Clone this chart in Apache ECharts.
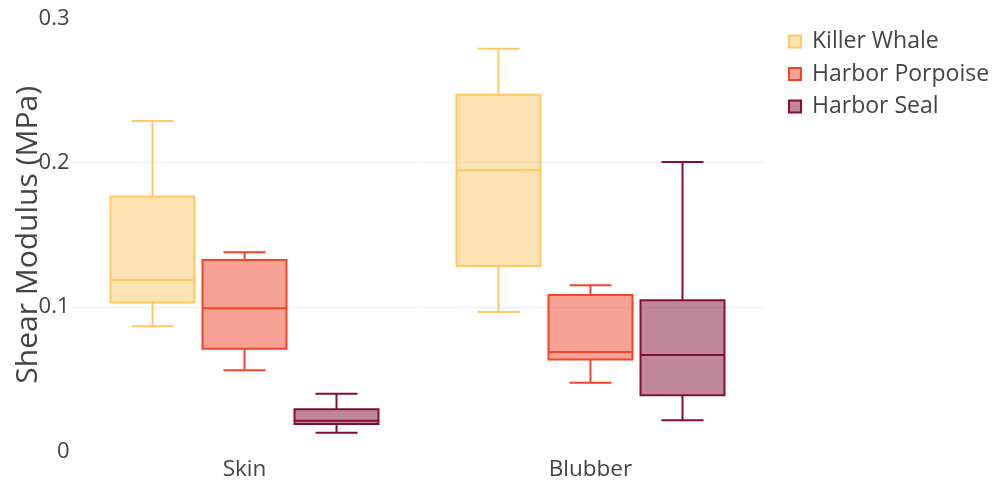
<!DOCTYPE html>
<html>
<head>
<meta charset="utf-8">
<script src="https://cdn.jsdelivr.net/npm/echarts@6/dist/echarts.min.js"></script>
<style>html,body{margin:0;padding:0;background:#fff;}#c{width:993px;height:483px;}</style>
</head>
<body>
<div id="c"></div>
<script>
// Data: [categoryIndex, min, Q1, median, Q3, max]
const categories = ['Skin', 'Blubber'];
const seriesNames = ['Killer Whale', 'Harbor Porpoise', 'Harbor Seal'];
const killerWhale = [
  [0, 0.0866, 0.1032, 0.1187, 0.1765, 0.2289],
  [1, 0.0965, 0.1284, 0.1947, 0.2471, 0.2790]
];
const harborPorpoise = [
  [0, 0.0561, 0.0711, 0.0991, 0.1326, 0.1379],
  [1, 0.0475, 0.0637, 0.0688, 0.1083, 0.1150]
];
const harborSeal = [
  [0, 0.0129, 0.0189, 0.0212, 0.0291, 0.0399],
  [1, 0.0215, 0.0388, 0.0667, 0.1046, 0.2005]
];
const yTicks = [0, 0.1, 0.2, 0.3];

const lineColors = ['#fec866', '#f2452b', '#820f38'];
const fillColors = ['rgba(254,200,102,0.5)', 'rgba(242,69,43,0.5)', 'rgba(130,15,56,0.5)'];
const offsets = [-92 / 346, 0, 92 / 346];
const boxFrac = 84 / 346;

function makeRender(idx) {
  return function (params, api) {
    const cat = api.value(0);
    const band = api.size([1, 0])[0];
    const cx = api.coord([cat, 0])[0] + offsets[idx] * band;
    const bw = band * boxFrac;
    const y = k => api.coord([cat, api.value(k)])[1];
    const yMin = y(1), yQ1 = y(2), yMed = y(3), yQ3 = y(4), yMax = y(5);
    const stroke = { stroke: lineColors[idx], lineWidth: 2, fill: null };
    const cap = bw / 4;
    return {
      type: 'group',
      children: [
        { type: 'rect', shape: { x: cx - bw / 2, y: yQ3, width: bw, height: yQ1 - yQ3 },
          style: { fill: fillColors[idx], stroke: lineColors[idx], lineWidth: 2 } },
        { type: 'line', shape: { x1: cx - bw / 2, y1: yMed, x2: cx + bw / 2, y2: yMed }, style: stroke },
        { type: 'line', shape: { x1: cx, y1: yQ3, x2: cx, y2: yMax }, style: stroke },
        { type: 'line', shape: { x1: cx, y1: yQ1, x2: cx, y2: yMin }, style: stroke },
        { type: 'line', shape: { x1: cx - cap, y1: yMax, x2: cx + cap, y2: yMax }, style: stroke },
        { type: 'line', shape: { x1: cx - cap, y1: yMin, x2: cx + cap, y2: yMin }, style: stroke }
      ]
    };
  };
}

const allData = [killerWhale, harborPorpoise, harborSeal];
const chart = echarts.init(document.getElementById('c'), null, { renderer: 'canvas' });
chart.setOption({
  animation: false,
  textStyle: { fontFamily: '"Open Sans", sans-serif' },
  grid: { left: 71.5, width: 692, top: 18.4, height: 432.9, outerBoundsMode: 'none' },
  legend: {
    orient: 'vertical', left: 788, top: 30, padding: 0,
    itemWidth: 12, itemHeight: 12, itemGap: 9.5,
    textStyle: { fontSize: 23, color: '#444', fontFamily: '"Open Sans", sans-serif', padding: [0, 0, 0, 6] },
    data: seriesNames.map((n, i) => ({
      name: n, icon: 'rect',
      itemStyle: { color: fillColors[i], borderColor: lineColors[i], borderWidth: 2 }
    }))
  },
  xAxis: {
    type: 'category', data: categories, boundaryGap: true,
    axisLine: { show: false }, axisTick: { show: false }, splitLine: { show: false },
    axisLabel: { fontSize: 22.5, color: '#444', margin: 7, fontFamily: '"Open Sans", sans-serif' }
  },
  yAxis: {
    type: 'value', min: yTicks[0], max: yTicks[yTicks.length - 1], interval: 0.1,
    name: 'Shear Modulus (MPa)', nameLocation: 'middle', nameGap: 28, nameRotate: 90,
    nameMoveOverlap: false,
    nameTextStyle: { fontSize: 30, color: '#444', fontFamily: '"Open Sans", sans-serif' },
    axisLine: { show: false }, axisTick: { show: false },
    axisLabel: { fontSize: 22, color: '#444', margin: 2, fontFamily: '"Open Sans", sans-serif',
      formatter: v => String(Math.round(v * 10) / 10) },
    splitLine: { show: true, lineStyle: { color: ['rgba(0,0,0,0)', '#eeeeee', '#eeeeee', 'rgba(0,0,0,0)'], width: 1 } }
  },
  series: allData.map((d, i) => ({
    type: 'custom', name: seriesNames[i],
    itemStyle: { color: fillColors[i], borderColor: lineColors[i] },
    renderItem: makeRender(i),
    encode: { x: 0, y: [1, 2, 3, 4, 5] },
    data: d
  }))
});
</script>
</body>
</html>
